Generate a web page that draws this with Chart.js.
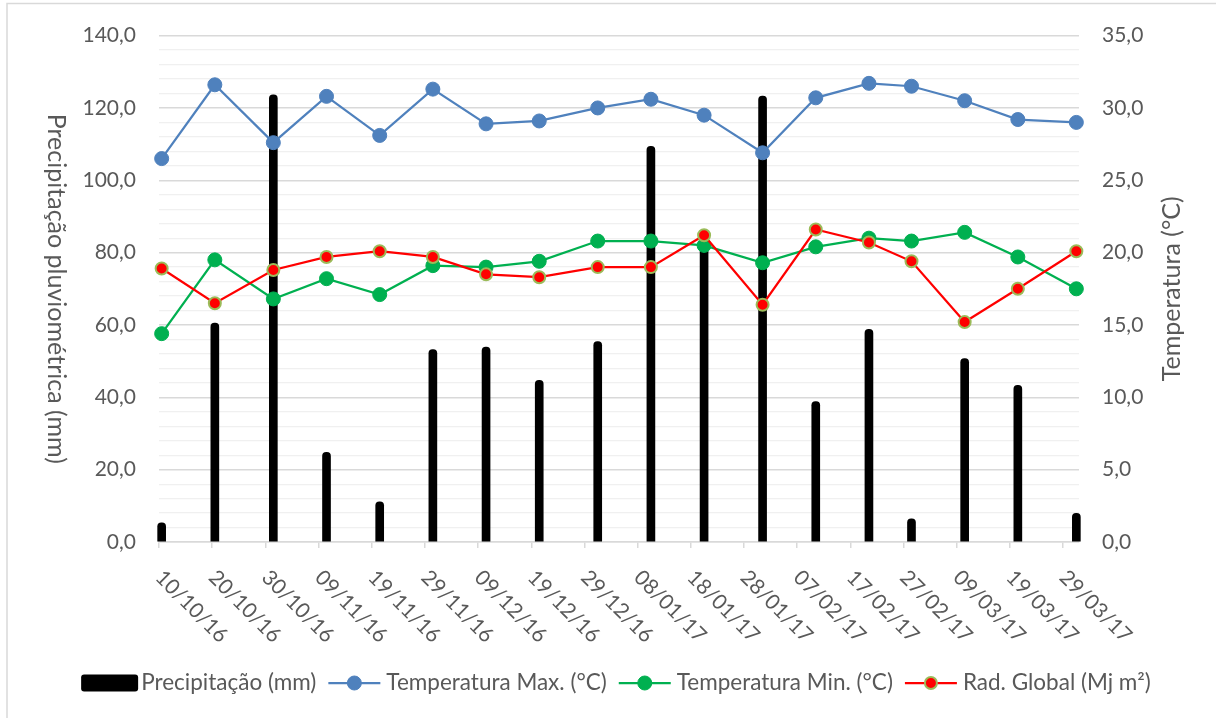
<!DOCTYPE html>
<html>
<head>
<meta charset="utf-8">
<script src="https://cdn.jsdelivr.net/npm/chart.js@4.4.0/dist/chart.umd.min.js"></script>
<style>
body { margin: 0; background: #fff; }
#wrap { width: 1216px; height: 718px; position: relative; }
</style>
</head>
<body>
<div id="wrap"><canvas id="chart"></canvas></div>
<script>
// datas dos decêndios (dd/mm/aa)
var dates = ['10/10/16','20/10/16','31/10/16','10/11/16','20/11/16','30/11/16','10/12/16','20/12/16','31/12/16','10/01/17','20/01/17','31/01/17','10/02/17','20/02/17','28/02/17','10/03/17','20/03/17','31/03/17'];
// rótulos do eixo x (a cada 10 dias)
var tickLabels = ['10/10/16','20/10/16','30/10/16','09/11/16','19/11/16','29/11/16','09/12/16','19/12/16','29/12/16','08/01/17','18/01/17','28/01/17','07/02/17','17/02/17','27/02/17','09/03/17','19/03/17','29/03/17'];

var precip = [5.3, 60.5, 123.6, 24.8, 11.1, 53.2, 53.9, 44.7, 55.4, 109.4, 83.0, 123.3, 38.8, 58.8, 6.4, 50.7, 43.3, 7.9];
var tmax = [26.5, 31.6, 27.6, 30.8, 28.1, 31.3, 28.9, 29.1, 30.0, 30.6, 29.5, 26.9, 30.7, 31.7, 31.5, 30.5, 29.2, 29.0];
var tmin = [14.4, 19.5, 16.8, 18.2, 17.1, 19.1, 19.0, 19.4, 20.8, 20.8, 20.5, 19.3, 20.4, 21.0, 20.8, 21.4, 19.7, 17.5];
var rad = [18.9, 16.5, 18.8, 19.7, 20.1, 19.7, 18.5, 18.3, 19.0, 19.0, 21.2, 16.4, 21.6, 20.7, 19.4, 15.2, 17.5, 20.1];

var labels = ['Precipitação (mm)', 'Temperatura Max. (°C)', 'Temperatura Min. (°C)', 'Rad. Global (Mj m²)'];

var FONT = 'Lato';
var GREY = '#595959';

// dias desde a primeira data
function dayOf(s){
	var p = s.split('/');
	var t = Date.UTC(2000 + parseInt(p[2], 10), parseInt(p[1], 10) - 1, parseInt(p[0], 10));
	var p0 = dates[0].split('/');
	var t0 = Date.UTC(2000 + parseInt(p0[2], 10), parseInt(p0[1], 10) - 1, parseInt(p0[0], 10));
	return Math.round((t - t0) / 86400000);
}

// ponto no meio do dia, como no eixo de datas do Excel
function pts(values){
	return values.map((v, i) => ({x: dayOf(dates[i]) + 0.5, y: v}));
}

function fmt(v){
	return v.toFixed(1).replace('.', ',');
}

var extras = {
	id: 'extras',
	beforeDraw: (chart) => {
		var ctx = chart.ctx;
		ctx.save();
		ctx.fillStyle = '#fff';
		ctx.fillRect(0, 0, chart.width, chart.height);
		ctx.strokeStyle = '#d9d9d9';
		ctx.lineWidth = 1.5;
		ctx.strokeRect(7, 3.5, 1300, 800);
		ctx.restore();
	},
	afterDraw: (chart) => {
		var ctx = chart.ctx;
		var xs = chart.scales.x;
		var area = chart.chartArea;
		ctx.save();
		ctx.fillStyle = GREY;

		// rótulos do eixo x, girados 45°
		ctx.font = '21px ' + FONT;
		ctx.textAlign = 'left';
		ctx.textBaseline = 'middle';
		xs.ticks.forEach(t => {
			var lab = tickLabels[Math.round(t.value / 10)];
			if(!lab) return;
			ctx.save();
			ctx.translate(xs.getPixelForValue(t.value), area.bottom + 32);
			ctx.rotate(Math.PI / 4);
			ctx.fillText(lab, 0, 0);
			ctx.restore();
		});

		// títulos dos eixos
		ctx.font = '25px ' + FONT;
		ctx.textAlign = 'center';
		ctx.save();
		ctx.translate(56, (area.top + area.bottom) / 2);
		ctx.rotate(Math.PI / 2);
		ctx.fillText('Precipitação pluviométrica (mm)', 0, 0);
		ctx.restore();
		ctx.save();
		ctx.translate(1172, (area.top + area.bottom) / 2);
		ctx.rotate(-Math.PI / 2);
		ctx.fillText('Temperatura (°C)', 0, 0);
		ctx.restore();

		// legenda
		ctx.font = '22.5px ' + FONT;
		ctx.textAlign = 'left';
		var items = chart.data.datasets.map(ds => ({
			ds: ds,
			symW: ds.type === 'bar' ? 57 : 52,
			gap: ds.type === 'bar' ? 3 : 6,
			textW: ctx.measureText(ds.label).width,
		}));
		var total = 0;
		items.forEach((it, i) => { total += it.symW + it.gap + it.textW + (i ? 12 : 0); });
		var x = 616 - total / 2;
		var y = 683;
		items.forEach(it => {
			var ds = it.ds;
			if(ds.type === 'bar'){
				ctx.fillStyle = '#000';
				ctx.beginPath();
				ctx.roundRect(x, y - 8.5, it.symW, 17, 3);
				ctx.fill();
			}else{
				ctx.strokeStyle = ds.borderColor;
				ctx.lineWidth = ds.borderWidth;
				ctx.beginPath();
				ctx.moveTo(x, y);
				ctx.lineTo(x + it.symW, y);
				ctx.stroke();
				ctx.beginPath();
				ctx.arc(x + it.symW / 2, y, ds.pointRadius, 0, Math.PI * 2);
				ctx.fillStyle = ds.pointBackgroundColor;
				ctx.fill();
				ctx.lineWidth = ds.pointBorderWidth;
				ctx.strokeStyle = ds.pointBorderColor;
				ctx.stroke();
			}
			x += it.symW + it.gap;
			ctx.fillStyle = GREY;
			ctx.fillText(ds.label, x, y);
			x += it.textW + 12;
		});
		ctx.restore();
	}
};

var chart = new Chart(document.getElementById('chart'), {
	type: 'bar',
	data: {
		datasets: [{
			type: 'bar',
			label: labels[0],
			data: pts(precip),
			backgroundColor: '#000',
			barThickness: 8,
			borderRadius: 4,
			yAxisID: 'y',
			order: 10,
			clip: false,
		}, {
			type: 'line',
			label: labels[1],
			data: pts(tmax),
			borderColor: '#4f81bd',
			borderWidth: 2.25,
			pointRadius: 7,
			pointBackgroundColor: '#4f81bd',
			pointBorderColor: '#4f81bd',
			pointBorderWidth: 1,
			yAxisID: 'y2',
			order: 3,
			clip: false,
		}, {
			type: 'line',
			label: labels[2],
			data: pts(tmin),
			borderColor: '#00b050',
			borderWidth: 2.25,
			pointRadius: 7,
			pointBackgroundColor: '#00b050',
			pointBorderColor: '#00b050',
			pointBorderWidth: 1,
			yAxisID: 'y2',
			order: 2,
			clip: false,
		}, {
			type: 'line',
			label: labels[3],
			data: pts(rad),
			borderColor: '#ff0000',
			borderWidth: 2.25,
			pointRadius: 6,
			pointBackgroundColor: '#ff0000',
			pointBorderColor: '#9bbb59',
			pointBorderWidth: 2,
			yAxisID: 'y2',
			order: 1,
			clip: false,
		}]
	},
	options: {
		responsive: true,
		maintainAspectRatio: false,
		animation: false,
		devicePixelRatio: 1,
		layout: { padding: { top: 32, left: 0, right: 0, bottom: 0 } },
		plugins: {
			legend: { display: false },
			tooltip: { enabled: false },
		},
		scales: {
			x: {
				type: 'linear',
				min: 0,
				max: 173,
				offset: false,
				afterFit: s => { s.height = 176; },
				ticks: { display: false, stepSize: 10, autoSkip: false, includeBounds: false },
				grid: { offset: false, drawOnChartArea: false, drawTicks: true, tickLength: 6, color: '#d9d9d9', lineWidth: 1.5 },
				border: { display: true, color: '#d9d9d9', width: 1.5 },
			},
			y: {
				position: 'left',
				min: 0,
				max: 140,
				afterFit: s => { s.width = 159; },
				ticks: {
					stepSize: 4,
					autoSkip: false,
					padding: 23,
					color: GREY,
					font: { family: FONT, size: 21 },
					callback: v => v % 20 === 0 ? fmt(v) : '',
				},
				grid: {
					drawTicks: false,
					color: c => c.tick && c.tick.value % 20 === 0 ? '#d9d9d9' : '#f0f0f0',
					lineWidth: c => c.tick && c.tick.value % 20 === 0 ? 1.5 : 1.2,
				},
				border: { display: false },
			},
			y2: {
				position: 'right',
				min: 0,
				max: 35,
				afterFit: s => { s.width = 137; },
				ticks: {
					stepSize: 5,
					padding: 23,
					color: GREY,
					font: { family: FONT, size: 21 },
					callback: v => fmt(v),
				},
				grid: { drawOnChartArea: false, drawTicks: false },
				border: { display: false },
			}
		}
	},
	plugins: [extras]
});
</script>
</body>
</html>
